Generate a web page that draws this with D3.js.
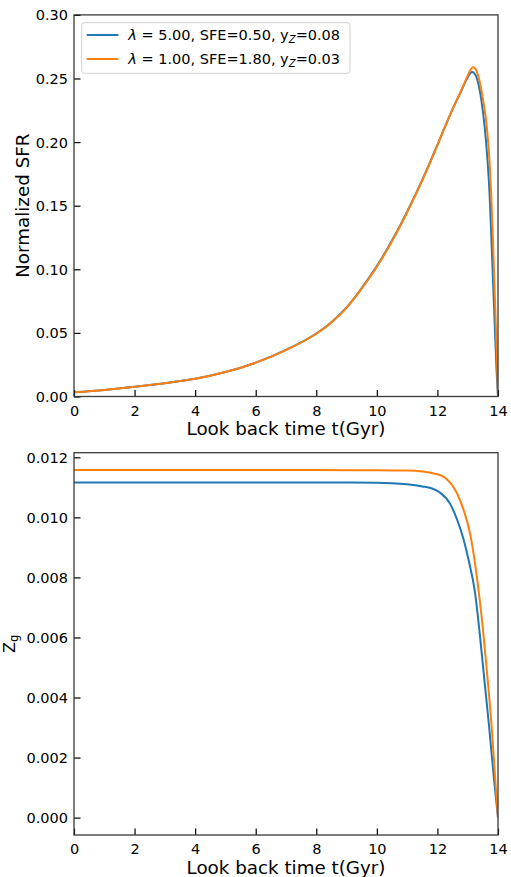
<!DOCTYPE html>
<html>
<head>
<meta charset="utf-8">
<script src="https://cdn.jsdelivr.net/npm/d3@7"></script>
<style>
  html, body { margin: 0; padding: 0; background: #fff; }
  svg { display: block; font-family: "DejaVu Sans", sans-serif; }
</style>
</head>
<body>
<svg id="chart" width="511" height="877"></svg>
<script>
// Model runs: star formation history and gas metallicity vs look-back time
const runColors = ["#1f77b4", "#ff7f0e"];

// Normalized SFR, [t (Gyr), value]
const sfrRun1 = [
  [0, 0.0033], [1, 0.0052], [2, 0.0076], [3, 0.0104], [4, 0.0139], [5, 0.0192],
  [6, 0.0266], [7, 0.0366], [8, 0.0495], [8.5, 0.0584], [9, 0.0700], [9.44, 0.0833],
  [10, 0.1025], [10.65, 0.1291], [11, 0.1452], [11.65, 0.1783], [12, 0.1979],
  [12.25, 0.2121], [12.5, 0.2259], [12.75, 0.2384], [13.0, 0.2510], [13.1, 0.2545],
  [13.15, 0.2551], [13.2, 0.2546], [13.27, 0.2520], [13.35, 0.2460], [13.45, 0.2330],
  [13.56, 0.2120], [13.65, 0.1870], [13.72, 0.1600], [13.78, 0.1250], [13.84, 0.0880],
  [13.9, 0.0520], [13.95, 0.0220], [14.0, 0.0]
];
const sfrRun2 = [
  [0, 0.0033], [1, 0.0052], [2, 0.0076], [3, 0.0104], [4, 0.0139], [5, 0.0192],
  [6, 0.0266], [7, 0.0365], [8, 0.0493], [8.5, 0.0582], [9, 0.0697], [9.44, 0.0830],
  [10, 0.1020], [10.65, 0.1286], [11, 0.1448], [11.65, 0.1780], [12, 0.1977],
  [12.25, 0.2120], [12.5, 0.2259], [12.75, 0.2386], [13.0, 0.2522], [13.1, 0.2572],
  [13.18, 0.2588], [13.25, 0.2578], [13.32, 0.2540], [13.4, 0.2470], [13.5, 0.2340],
  [13.63, 0.2120], [13.72, 0.1850], [13.77, 0.1620], [13.83, 0.1250], [13.88, 0.0900],
  [13.93, 0.0550], [13.97, 0.0250], [14.0, 0.0]
];

// Gas metallicity Z_g, [t (Gyr), value]
const zgRun1 = [
  [0, 0.01116], [2, 0.01116], [4, 0.01116], [6, 0.01116], [8, 0.01116],
  [10, 0.011155], [10.5, 0.01114], [11, 0.01110], [11.5, 0.01103], [11.8, 0.01097],
  [12.08, 0.01083], [12.42, 0.01045], [12.64, 0.00995], [12.86, 0.00928],
  [13.02, 0.00862], [13.24, 0.00750], [13.4, 0.00610], [13.55, 0.00459],
  [13.7, 0.00310], [13.87, 0.00126], [14.0, 0.0]
];
const zgRun2 = [
  [0, 0.011575], [2, 0.011575], [4, 0.011575], [6, 0.011575], [8, 0.011575],
  [10, 0.01157], [11, 0.01156], [11.5, 0.01153], [11.85, 0.01147], [12.15, 0.01138],
  [12.3, 0.01128], [12.64, 0.01081], [12.86, 0.01026], [13.08, 0.00945], [13.33, 0.00780],
  [13.5, 0.00630], [13.66, 0.00459], [13.8, 0.00290], [13.91, 0.00126], [14.0, 0.0]
];

const xTicks = [0, 2, 4, 6, 8, 10, 12, 14];
const sfrTicks = [0.00, 0.05, 0.10, 0.15, 0.20, 0.25, 0.30];
const zgTicks = [0.000, 0.002, 0.004, 0.006, 0.008, 0.010, 0.012];

const svg = d3.select("#chart");
const left = 74, right = 498;
const tickFont = 14.5, labelFont = 18.3;
const frameColor = "#3a3a3a";

function panel(opts) {
  const g = svg.append("g");
  const x = d3.scaleLinear().domain([0, 14]).range([left, right]);
  const y = d3.scaleLinear().domain(opts.yDomain).range([opts.bottom, opts.top]);

  const clipId = "clip-" + opts.id;
  svg.append("clipPath").attr("id", clipId)
    .append("rect").attr("x", left).attr("y", opts.top)
    .attr("width", right - left).attr("height", opts.bottom - opts.top);

  // curves
  const line = d3.line().x(d => x(d[0])).y(d => y(d[1])).curve(d3.curveMonotoneX);
  opts.series.forEach((s, i) => {
    g.append("path").datum(s)
      .attr("clip-path", `url(#${clipId})`)
      .attr("fill", "none").attr("stroke", runColors[i])
      .attr("stroke-width", 2).attr("stroke-linejoin", "round")
      .attr("d", line);
  });

  // axes with inward ticks
  const xAxis = d3.axisBottom(x).tickValues(xTicks).tickSizeInner(-6.5).tickSizeOuter(0)
    .tickPadding(9).tickFormat(d3.format("d"));
  const gx = g.append("g").attr("transform", `translate(0,${opts.bottom})`).call(xAxis);
  const yAxis = d3.axisLeft(y).tickValues(opts.yTicks).tickSizeInner(-6.5).tickSizeOuter(0)
    .tickPadding(6).tickFormat(d3.format(opts.yFmt));
  const gy = g.append("g").attr("transform", `translate(${left},0)`).call(yAxis);

  [gx, gy].forEach(ax => {
    ax.select(".domain").remove();
    ax.selectAll(".tick line").attr("stroke", "#000").attr("stroke-width", 1.2);
    ax.selectAll(".tick text").attr("fill", "#000").attr("font-size", tickFont)
      .attr("font-family", "DejaVu Sans");
  });
  gx.selectAll(".tick text").attr("dy", "0.71em");
  gy.selectAll(".tick text").attr("dy", "0.34em");

  // frame
  g.append("rect").attr("x", left).attr("y", opts.top)
    .attr("width", right - left).attr("height", opts.bottom - opts.top)
    .attr("fill", "none").attr("stroke", frameColor).attr("stroke-width", 1.3);

  // x label
  g.append("text").attr("x", (left + right) / 2).attr("y", opts.bottom + 38.5)
    .attr("text-anchor", "middle").attr("font-size", labelFont).attr("fill", "#000")
    .text("Look back time t(Gyr)");

  return { g, x, y };
}

// Upper panel: normalized SFR
const sfrPanel = panel({
  id: "sfr", top: 14.9, bottom: 396.5, yDomain: [0, 0.30],
  yTicks: sfrTicks, yFmt: ".2f", series: [sfrRun1, sfrRun2]
});
sfrPanel.g.append("text")
  .attr("transform", `translate(29,${(14.9 + 396.5) / 2}) rotate(-90)`)
  .attr("text-anchor", "middle").attr("font-size", labelFont).attr("fill", "#000")
  .text("Normalized SFR");

// Legend
const leg = sfrPanel.g.append("g");
leg.append("rect").attr("x", 81.7).attr("y", 22.7).attr("width", 268.3).attr("height", 50.6)
  .attr("rx", 3).attr("fill", "#fff").attr("fill-opacity", 0.8)
  .attr("stroke", "#d0d0d0").attr("stroke-width", 1);
const legendItems = [
  { lam: "5.00", sfe: "0.50", yz: "0.08" },
  { lam: "1.00", sfe: "1.80", yz: "0.03" }
];
legendItems.forEach((it, i) => {
  const cy = 35 + i * 24;
  leg.append("line").attr("x1", 86.7).attr("x2", 118.3).attr("y1", cy).attr("y2", cy)
    .attr("stroke", runColors[i]).attr("stroke-width", 2);
  const t = leg.append("text").attr("x", 128.3).attr("y", cy + 5.2)
    .attr("font-size", tickFont).attr("fill", "#000");
  t.append("tspan").attr("font-style", "italic").text("λ");
  t.append("tspan").text(` = ${it.lam}, SFE=${it.sfe}, y`);
  t.append("tspan").attr("font-style", "italic").attr("font-size", tickFont * 0.7)
    .attr("dy", 3).text("Z");
  t.append("tspan").attr("dy", -3).text(`=${it.yz}`);
});

// Lower panel: gas metallicity
const zgPanel = panel({
  id: "zg", top: 452.7, bottom: 835, yDomain: [-0.000579, 0.012154],
  yTicks: zgTicks, yFmt: ".3f", series: [zgRun1, zgRun2]
});
const zl = zgPanel.g.append("text")
  .attr("transform", `translate(15,${(452.7 + 835) / 2}) rotate(-90)`)
  .attr("text-anchor", "middle").attr("font-size", 16).attr("fill", "#000");
zl.append("tspan").text("Z");
zl.append("tspan").attr("font-size", 11.5).attr("dy", 3).text("g");
</script>
</body>
</html>
